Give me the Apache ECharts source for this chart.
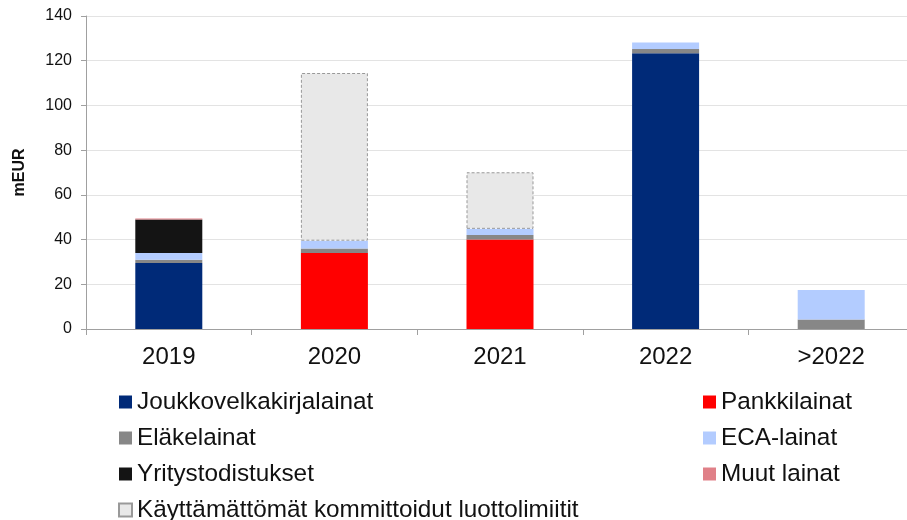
<!DOCTYPE html>
<html>
<head>
<meta charset="utf-8">
<script src="https://cdn.jsdelivr.net/npm/echarts@6/dist/echarts.min.js"></script>
<style>html,body{margin:0;padding:0;background:#fff;overflow:hidden;width:907px;height:520px;}#c{width:914px;height:520px;}</style>
</head>
<body>
<div id="c"></div>
<script>
var categories = ['2019', '2020', '2021', '2022', '>2022'];
var joukkovelkakirjalainat = [29.5, null, null, 123.3, null];
var pankkilainat = [null, 34, 40, null, null];
var elakelainat = [1.5, 2, 2, 1.9, 4.2];
var ecaLainat = [3, 3.5, 2.8, 3, 13.2];
var yritystodistukset = [15, null, null, null, null];
var muutLainat = [0.4, null, null, null, null];
var kayttamattomat = [null, 75, 25.3, null, null];
var yTicks = [0, 20, 40, 60, 80, 100, 120, 140];

var font = '"Liberation Sans", Arial, sans-serif';
var chart = echarts.init(document.getElementById('c'));
function s(name, data, color, extra) {
  var o = {
    name: name, type: 'bar', stack: 'total', data: data, barWidth: 67,
    itemStyle: { color: color }, emphasis: { disabled: true }
  };
  if (extra) { for (var k in extra) o.itemStyle[k] = extra[k]; }
  return o;
}
var legendText = { fontFamily: font, fontSize: 24.3, color: '#111', lineHeight: 24 };
chart.setOption({
  animation: false,
  grid: { left: 86, right: 0, top: 16, bottom: 191 },
  xAxis: {
    type: 'category', data: categories,
    axisLine: { lineStyle: { color: '#a0a0a0' } },
    axisTick: { show: true, length: 6, lineStyle: { color: '#a0a0a0' } },
    axisLabel: { fontFamily: font, fontSize: 24, color: '#111', margin: 16 }
  },
  yAxis: {
    type: 'value', min: yTicks[0], max: yTicks[yTicks.length - 1], interval: 20,
    name: 'mEUR', nameLocation: 'middle', nameGap: 58, nameRotate: 90,
    nameTextStyle: { fontFamily: font, fontSize: 16, fontWeight: 'bold', color: '#111' },
    axisLine: { show: true, lineStyle: { color: '#a0a0a0' } },
    axisTick: { show: true, length: 5, lineStyle: { color: '#a0a0a0' } },
    axisLabel: { fontFamily: font, fontSize: 16, color: '#111', margin: 14 },
    splitLine: { lineStyle: { color: '#e3e3e3' } }
  },
  legend: [
    {
      orient: 'vertical', left: 118, top: 390, height: 140, padding: 0,
      itemWidth: 13, itemHeight: 13, itemGap: 12,
      icon: 'rect', textStyle: legendText, selectedMode: false,
      data: ['Joukkovelkakirjalainat', 'Eläkelainat', 'Yritystodistukset', 'Käyttämättömät kommittoidut luottolimiitit']
    },
    {
      orient: 'vertical', left: 703, top: 390, height: 140, padding: 0,
      itemWidth: 13, itemHeight: 13, itemGap: 12,
      icon: 'rect', textStyle: legendText, selectedMode: false,
      data: ['Pankkilainat', 'ECA-lainat', 'Muut lainat']
    }
  ],
  series: [
    s('Joukkovelkakirjalainat', joukkovelkakirjalainat, '#002A78'),
    s('Pankkilainat', pankkilainat, '#FF0000'),
    s('Eläkelainat', elakelainat, '#878787'),
    s('ECA-lainat', ecaLainat, '#B3CCFF'),
    s('Yritystodistukset', yritystodistukset, '#141414'),
    s('Muut lainat', muutLainat, '#E08088'),
    s('Käyttämättömät kommittoidut luottolimiitit', kayttamattomat, '#E8E8E8',
      { borderColor: '#999999', borderWidth: 1, borderType: [3, 2] })
  ]
});
</script>
</body>
</html>
